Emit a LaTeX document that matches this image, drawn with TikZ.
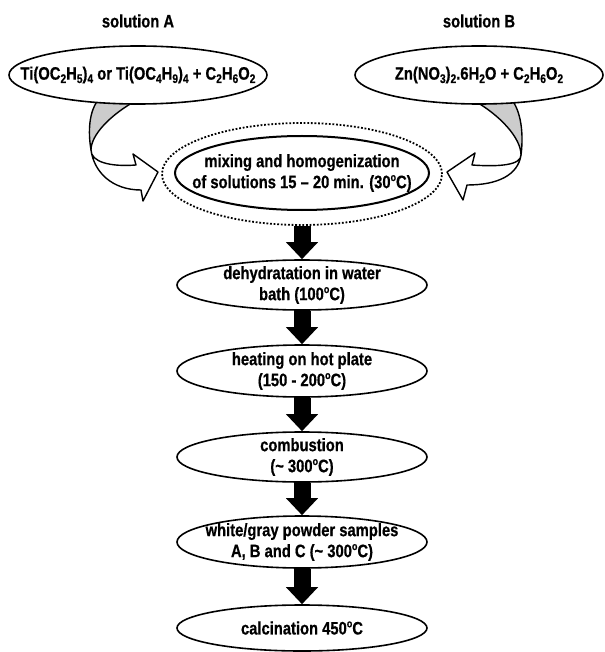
\documentclass[tikz,border=0pt]{standalone}
\usepackage{fontspec}
\newfontfamily\labfont{Liberation Sans Bold}[FakeStretch=0.82,FakeBold=0.6]
\usetikzlibrary{shapes.geometric,arrows.meta}
\newcommand\chs[1]{\raisebox{-0.35ex}{\fontsize{12.5}{12.5}\selectfont #1}}
\newcommand\dgc{\raisebox{0.75ex}{\fontsize{11}{11}\selectfont o}C}
\begin{document}
\begin{tikzpicture}[x=1pt,y=-1pt,
  lab/.style={font={\labfont\fontsize{18}{21}\selectfont}, align=center, inner sep=0pt},
  oval/.style={ellipse, draw, line width=1.6pt, fill=white, inner sep=0pt},
  flowbox/.style={oval, minimum width=250pt},
  bigarrow/.style={line width=17pt, -{Triangle[length=17pt,width=31pt]}},
  curl/.style={line width=1.4pt, line join=round}]
\useasboundingbox (0,0) rectangle (604,652);

% curved arrow A
\filldraw[curl, fill=gray!40] (98,100) .. controls (87,115) and (89,138) .. (91,150)
  .. controls (91,135) and (110,115) .. (137,100) -- cycle;
\filldraw[curl, fill=white] (91,150) .. controls (94,172) and (112,190) .. (141,190)
  -- (143,201) -- (158,172) -- (133,154) -- (136,165)
  .. controls (110,167) and (91,162) .. (91,150) -- cycle;
% curved arrow B
\filldraw[curl, fill=gray!40] (512,100) .. controls (523,115) and (523,140) .. (521,155)
  .. controls (521,138) and (500,115) .. (473,100) -- cycle;
\filldraw[curl, fill=white] (521,155) .. controls (518,175) and (498,185) .. (467,185)
  -- (463,200) -- (447,172) -- (475,153) -- (472,165)
  .. controls (500,167) and (521,165) .. (521,155) -- cycle;

% titles and source ellipses
\node[lab] (titA) at (138,21) {solution A};
\node[lab] (titB) at (479,21) {solution B};
\node[oval, minimum width=258pt, minimum height=58pt] (solA) at (138,75) {};
\node[lab] (solAt) at (solA) {Ti(OC\chs2H\chs5)\chs4 or Ti(OC\chs4H\chs9)\chs4 + C\chs2H\chs6O\chs2};
\node[oval, minimum width=248pt, minimum height=58pt] (solB) at (479,75) {};
\node[lab] (solBt) at (solB) {Zn(NO\chs3)\chs2.6H\chs2O + C\chs2H\chs6O\chs2};

% mixing
\node[ellipse, draw, line width=1.8pt, dash pattern=on 1.8pt off 1.8pt,
  minimum width=280pt, minimum height=102pt, inner sep=0pt] (mixo) at (302,174) {};
\node[oval, line width=2pt, minimum width=254pt, minimum height=74pt] (mix) at (302,173) {};
\node[lab] (mixt) at (mix) {mixing and homogenization\\of solutions 15 – 20 min. (30\dgc)};

% flow steps
\node[flowbox, minimum height=50pt] (dehyd) at (302,285) {};
\node[lab] (dehydt) at (dehyd) {dehydratation in water\\bath (100\dgc)};
\node[flowbox, minimum height=52pt] (heat) at (302,371) {};
\node[lab] (heatt) at (heat) {heating on hot plate\\(150 - 200\dgc)};
\node[flowbox, minimum height=50pt] (comb) at (302,457) {};
\node[lab] (combt) at (comb) {combustion\\(\textasciitilde{} 300\dgc)};
\node[flowbox, minimum height=52pt] (powd) at (302,542) {};
\node[lab] (powdt) at (powd) {white/gray powder samples\\A, B and C (\textasciitilde{} 300\dgc)};
\node[flowbox, minimum height=46pt] (calc) at (302,628) {};
\node[lab] (calct) at (calc) {calcination 450\dgc};

% arrows
\draw[bigarrow] (mixo.south) -- (dehyd.north);
\draw[bigarrow] (dehyd.south) -- (heat.north);
\draw[bigarrow] (heat.south) -- (comb.north);
\draw[bigarrow] (comb.south) -- (powd.north);
\draw[bigarrow] (powd.south) -- (calc.north);
\end{tikzpicture}
\end{document}
